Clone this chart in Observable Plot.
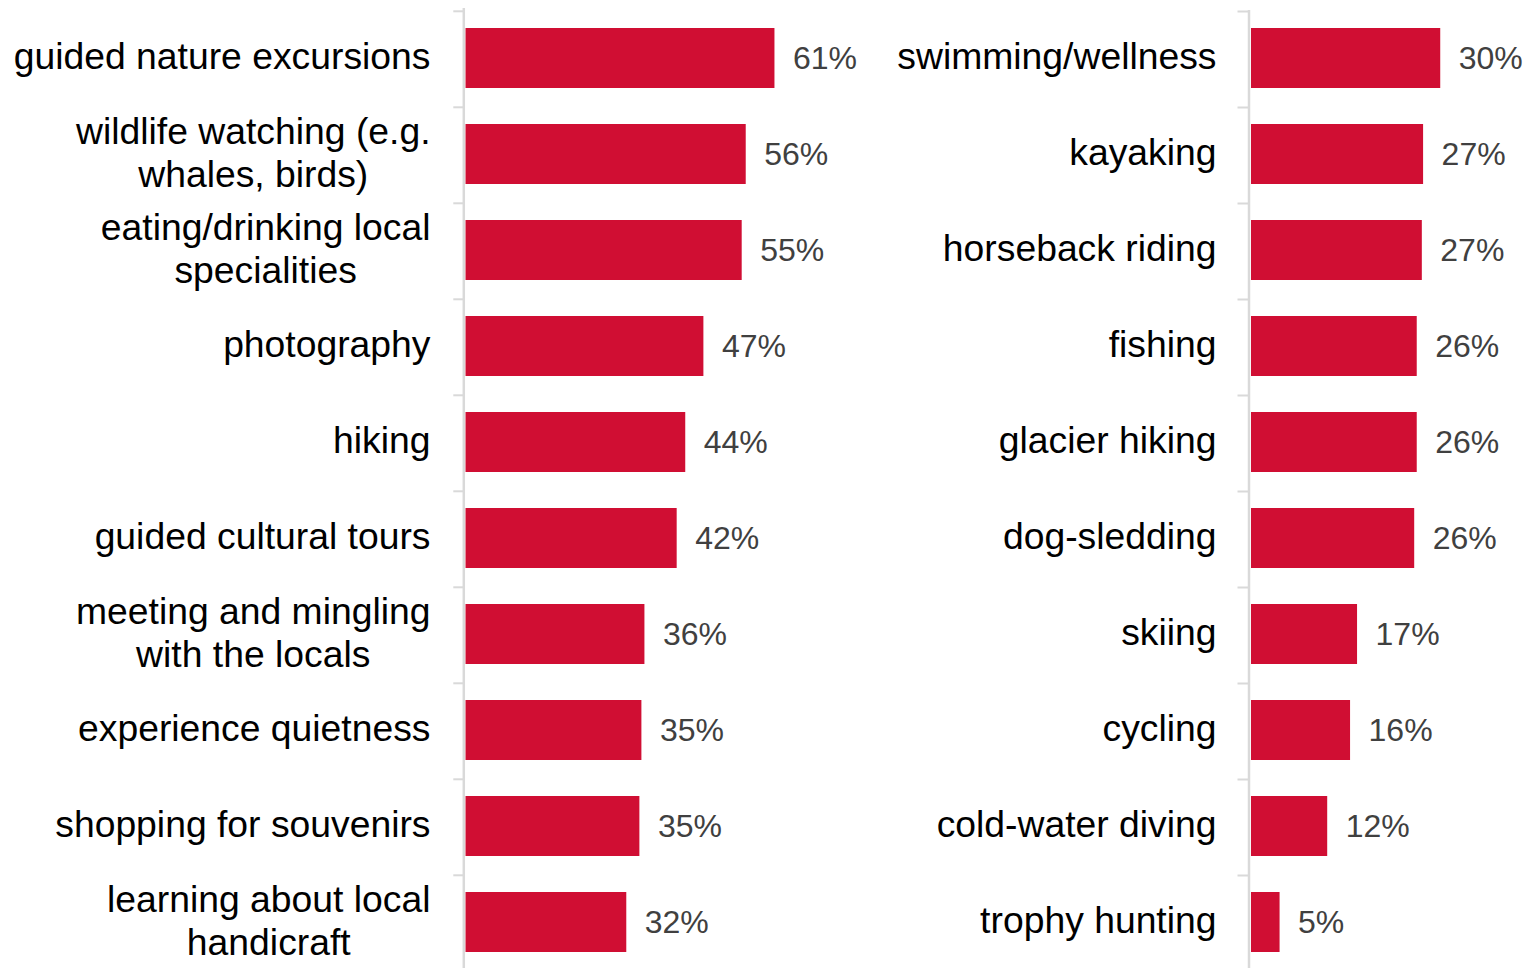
<!DOCTYPE html>
<html>
<head>
<meta charset="utf-8">
<script src="https://cdn.jsdelivr.net/npm/d3@7"></script>
<script src="https://cdn.jsdelivr.net/npm/@observablehq/plot@0.6"></script>
<style>
  html, body { margin: 0; padding: 0; background: #fff; overflow: hidden; }
  #chart { display: flex; flex-direction: row; width: 1526px; }
  #chart svg { max-width: none !important; }
</style>
</head>
<body>
<div id="chart"></div>
<script>
const leftCategories = [
  "guided nature excursions",
  "wildlife watching (e.g.\nwhales, birds)",
  "eating/drinking local\nspecialities",
  "photography",
  "hiking",
  "guided cultural tours",
  "meeting and mingling\nwith the locals",
  "experience quietness",
  "shopping for souvenirs",
  "learning about local\nhandicraft"
];
const leftValues = [61.3, 55.6, 54.8, 47.2, 43.6, 41.9, 35.5, 34.9, 34.5, 31.9];

const rightCategories = [
  "swimming/wellness",
  "kayaking",
  "horseback riding",
  "fishing",
  "glacier hiking",
  "dog-sledding",
  "skiing",
  "cycling",
  "cold-water diving",
  "trophy hunting"
];
const rightValues = [29.8, 27.1, 26.9, 26.1, 26.1, 25.7, 16.7, 15.6, 12.0, 4.5];

const BAR = "#d00e33";
const AXIS = "#d9d9d9";
const FONT = "'Liberation Sans', Arial, sans-serif";
const LABEL_SIZE = 37.3;
const VALUE_SIZE = 32;

const ctx = document.createElement("canvas").getContext("2d");
ctx.font = `${LABEL_SIZE}px ${FONT}`;
const blockWidth = s => Math.max(...s.split("\n").map(l => ctx.measureText(l).width));

function panel(categories, values, opts) {
  const data = categories.map((c, i) => ({cat: c, value: values[i], label: Math.round(values[i]) + "%"}));
  const step = (opts.height - opts.marginTop - opts.marginBottom) / categories.length;
  const labelMarks = data.map(d => Plot.text([d], {
    y: "cat", text: "cat", frameAnchor: "left", textAnchor: "middle", lineAnchor: "middle",
    lineHeight: 1.17, fontSize: LABEL_SIZE, fill: "#000", dy: -3,
    dx: -(opts.labelGap + blockWidth(d.cat) / 2)
  }));
  return Plot.plot({
    width: opts.width,
    height: opts.height,
    marginTop: opts.marginTop,
    marginBottom: opts.marginBottom,
    marginLeft: opts.x0,
    marginRight: 0,
    style: {fontFamily: FONT, background: "white"},
    x: {domain: [0, 100], range: [opts.x0, opts.x0 + opts.k * 100], axis: null},
    y: {domain: categories, paddingInner: 0.38, paddingOuter: 0.19, axis: null, label: null},
    marks: [
      Plot.barX(data, {y: "cat", x: "value", fill: BAR}),
      Plot.ruleX([0], {dx: opts.axisDx, stroke: AXIS, strokeWidth: 2.5}),
      Plot.axisY({anchor: "left", tickSize: opts.tickSize, tickFormat: () => "", label: null,
                  dy: -step / 2 + 1, dx: opts.axisDx, stroke: AXIS, color: AXIS, strokeWidth: 2}),
      Plot.text(data, {y: "cat", x: "value", text: "label", textAnchor: "start", dx: 18,
                       fontSize: VALUE_SIZE, fill: "#404040", lineAnchor: "middle"}),
      ...labelMarks
    ]
  });
}

const left = panel(leftCategories, leftValues, {
  width: 880, height: 972, marginTop: 8, marginBottom: 0,
  x0: 465.5, k: 5.04, labelGap: 35.5, axisDx: -2.2, tickSize: 10
});
const right = panel(rightCategories, rightValues, {
  width: 646, height: 968, marginTop: 8, marginBottom: 0,
  x0: 1251 - 880, k: 6.35, labelGap: 35, axisDx: -2.5, tickSize: 11
});
document.getElementById("chart").append(left, right);
</script>
</body>
</html>
